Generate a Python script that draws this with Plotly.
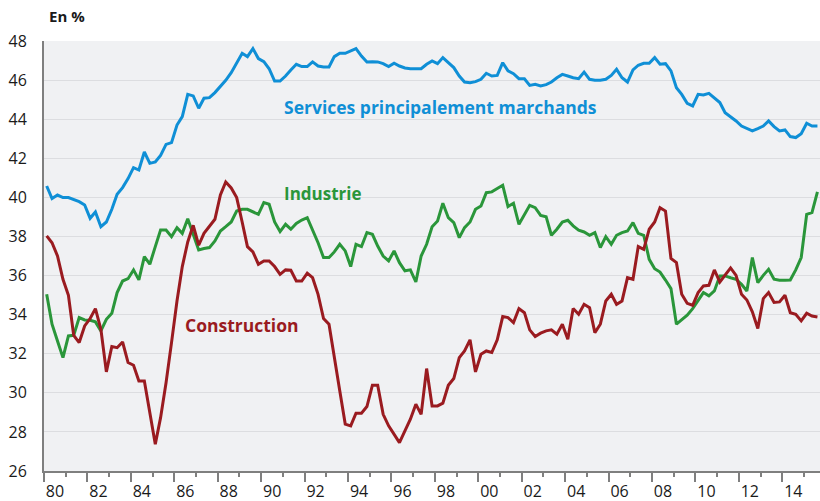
import plotly.graph_objects as go

# Quarterly data, 1980Q1 .. 2015Q3 (143 quarters), in %
quarters = [f"{y}-{m:02d}-15" for y in range(1980, 2016) for m in (2, 5, 8, 11)][:143]

services = [
    40.58, 39.94, 40.12, 39.99, 39.99, 39.87, 39.78, 39.61, 38.93, 39.25, 38.50, 38.74,
    39.39, 40.16, 40.50, 40.96, 41.52, 41.40, 42.32, 41.74, 41.81, 42.15, 42.71, 42.80,
    43.70, 44.13, 45.27, 45.19, 44.56, 45.07, 45.10, 45.36, 45.66, 45.99, 46.38, 46.86,
    47.37, 47.20, 47.61, 47.10, 46.94, 46.58, 45.95, 45.95, 46.21, 46.52, 46.81, 46.69,
    46.69, 46.93, 46.72, 46.67, 46.67, 47.20, 47.37, 47.37, 47.49, 47.61, 47.23, 46.93,
    46.94, 46.93, 46.84, 46.69, 46.86, 46.72, 46.62, 46.58, 46.58, 46.58, 46.81, 46.98,
    46.84, 47.15, 46.89, 46.64, 46.21, 45.90, 45.87, 45.92, 46.04, 46.35, 46.21, 46.24,
    46.89, 46.47, 46.33, 46.07, 46.07, 45.73, 45.78, 45.70, 45.77, 45.90, 46.12, 46.29,
    46.21, 46.12, 46.07, 46.41, 46.04, 45.99, 45.99, 46.04, 46.24, 46.55, 46.12, 45.90,
    46.52, 46.76, 46.86, 46.86, 47.15, 46.81, 46.84, 46.47, 45.61, 45.27, 44.81, 44.68,
    45.27, 45.24, 45.32, 45.07, 44.85, 44.33, 44.13, 43.91, 43.65, 43.53, 43.40, 43.52,
    43.65, 43.91, 43.62, 43.40, 43.45, 43.11, 43.06, 43.26, 43.79, 43.65, 43.65,
]

industrie = [
    35.04, 33.51, 32.65, 31.80, 32.91, 32.94, 33.85, 33.73, 33.71, 33.63, 33.17, 33.76,
    34.07, 35.13, 35.72, 35.84, 36.29, 35.78, 36.97, 36.58, 37.48, 38.33, 38.33, 37.99,
    38.45, 38.16, 38.91, 38.11, 37.31, 37.38, 37.43, 37.77, 38.28, 38.50, 38.74, 39.30,
    39.39, 39.39, 39.25, 39.13, 39.73, 39.65, 38.74, 38.25, 38.62, 38.37, 38.67, 38.84,
    38.96, 38.37, 37.68, 36.92, 36.92, 37.21, 37.60, 37.26, 36.46, 37.60, 37.48, 38.20,
    38.11, 37.51, 37.00, 36.75, 37.26, 36.66, 36.24, 36.29, 35.67, 37.00, 37.60, 38.50,
    38.79, 39.70, 38.96, 38.71, 37.94, 38.45, 38.74, 39.39, 39.56, 40.24, 40.28, 40.45,
    40.62, 39.53, 39.70, 38.62, 39.13, 39.59, 39.47, 39.08, 39.01, 38.06, 38.37, 38.74,
    38.83, 38.54, 38.32, 38.23, 38.06, 38.20, 37.43, 37.99, 37.60, 38.06, 38.20, 38.28,
    38.71, 38.16, 38.06, 36.83, 36.35, 36.18, 35.77, 35.33, 33.51, 33.73, 33.97, 34.31,
    34.70, 35.13, 34.96, 35.21, 35.98, 35.98, 35.89, 35.81, 35.55, 35.21, 36.92, 35.64,
    36.01, 36.32, 35.81, 35.76, 35.76, 35.77, 36.29, 36.92, 39.13, 39.22, 40.28,
]

construction = [
    38.03, 37.68, 37.00, 35.81, 34.99, 32.94, 32.57, 33.42, 33.80, 34.31, 33.25, 31.07,
    32.37, 32.31, 32.60, 31.55, 31.41, 30.61, 30.61, 28.99, 27.37, 28.73, 30.52, 32.57,
    34.70, 36.46, 37.72, 38.57, 37.55, 38.16, 38.50, 38.88, 40.12, 40.79, 40.48, 39.99,
    38.74, 37.48, 37.21, 36.58, 36.75, 36.75, 36.46, 36.06, 36.29, 36.27, 35.72, 35.72,
    36.12, 35.89, 35.04, 33.80, 33.51, 31.72, 30.10, 28.40, 28.31, 28.96, 28.96, 29.30,
    30.39, 30.39, 28.90, 28.31, 27.88, 27.45, 28.05, 28.65, 29.42, 28.90, 31.24, 29.33,
    29.33, 29.47, 30.39, 30.73, 31.80, 32.14, 32.71, 31.07, 31.97, 32.14, 32.06, 32.71,
    33.90, 33.85, 33.59, 34.31, 34.10, 33.22, 32.88, 33.05, 33.17, 33.22, 33.00, 33.51,
    32.74, 34.31, 34.02, 34.53, 34.36, 33.08, 33.51, 34.70, 35.04, 34.53, 34.70, 35.89,
    35.81, 37.48, 37.34, 38.37, 38.74, 39.47, 39.30, 36.87, 36.66, 35.04, 34.58, 34.48,
    35.13, 35.47, 35.50, 36.29, 35.67, 36.01, 36.39, 36.01, 35.04, 34.75, 34.14, 33.29,
    34.82, 35.13, 34.62, 34.65, 34.99, 34.10, 34.02, 33.68, 34.07, 33.93, 33.88,
]

year_starts = [f"{y}-01-01" for y in range(1980, 2016)]
label_years = [f"{y}-01-01" for y in range(1980, 2015, 2)]
tick_labels = ["80", "82", "84", "86", "88", "90", "92", "94", "96", "98",
               "00", "02", "04", "06", "08", "10", "12", "14"]
y_ticks = [26, 28, 30, 32, 34, 36, 38, 40, 42, 44, 46, 48]

BLUE = "#0f8fd6"
GREEN = "#2a963a"
RED = "#9a1b20"
AXIS = "#7f7f7f"
FONT = "Open Sans"

fig = go.Figure()
fig.add_trace(go.Scatter(x=quarters, y=services, mode="lines",
                         line=dict(color=BLUE, width=3), hoverinfo="skip"))
fig.add_trace(go.Scatter(x=quarters, y=industrie, mode="lines",
                         line=dict(color=GREEN, width=3), hoverinfo="skip"))
fig.add_trace(go.Scatter(x=quarters, y=construction, mode="lines",
                         line=dict(color=RED, width=3), hoverinfo="skip"))

fig.update_layout(
    width=820, height=501,
    margin=dict(l=44, r=0, t=41, b=30),
    paper_bgcolor="white",
    plot_bgcolor="#f0f1f3",
    showlegend=False,
    font=dict(family=FONT, color="#1a1a1a", size=16),
    xaxis=dict(
        type="date", automargin=False,
        range=["1980-01-01", "2015-09-27"],
        tickmode="array", tickvals=label_years, ticktext=tick_labels,
        ticks="outside", ticklen=9, tickwidth=1.5, tickcolor=AXIS,
        ticklabelshift=11, ticklabelstandoff=-4,
        showgrid=False, zeroline=False,
        showline=True, linecolor=AXIS, linewidth=2,
        tickfont=dict(size=16, family=FONT, color="#1a1a1a"),
        minor=dict(tickmode="array", tickvals=year_starts, ticks="outside",
                   ticklen=4, tickwidth=1.5, tickcolor=AXIS, showgrid=False),
    ),
    yaxis=dict(
        range=[26, 48], automargin=False,
        tickmode="array", tickvals=y_ticks,
        ticks="", ticklabelstandoff=12,
        showgrid=True, gridcolor="#dcdde0", gridwidth=1.2,
        zeroline=False,
        showline=True, linecolor=AXIS, linewidth=2,
        tickfont=dict(size=16, family=FONT, color="#1a1a1a"),
    ),
)

fig.add_annotation(text="<b>En %</b>", xref="paper", yref="paper", x=0.004, y=1,
                   xanchor="left", yanchor="middle", yshift=25, showarrow=False,
                   font=dict(size=15, family=FONT, color="#1a1a1a"))
fig.add_annotation(text="<b>Services principalement marchands</b>", xref="paper", yref="paper",
                   x=0.3067, y=0.8465, xanchor="left", yanchor="middle", showarrow=False,
                   font=dict(size=17.5, family=FONT, color=BLUE))
fig.add_annotation(text="<b>Industrie</b>", xref="paper", yref="paper",
                   x=0.3067, y=0.6465, xanchor="left", yanchor="middle", showarrow=False,
                   font=dict(size=17, family=FONT, color=GREEN))
fig.add_annotation(text="<b>Construction</b>", xref="paper", yref="paper",
                   x=0.1791, y=0.3395, xanchor="left", yanchor="middle", showarrow=False,
                   font=dict(size=17.5, family=FONT, color=RED))

fig.write_html("out.html", config={"displayModeBar": False},
               post_script="document.body.style.margin='0';document.body.style.overflow='hidden';")
